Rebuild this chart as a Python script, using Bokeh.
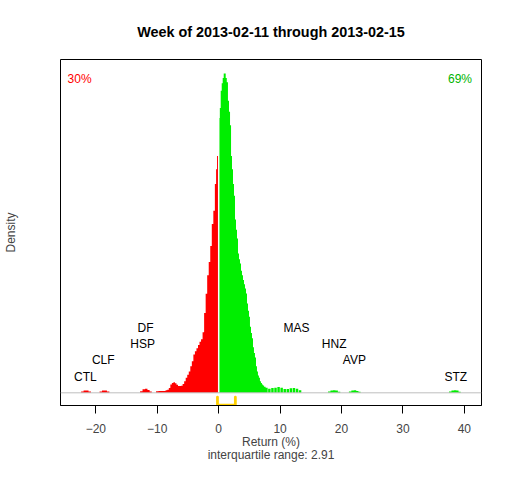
from bokeh.plotting import figure
from bokeh.models import Range1d, FixedTicker, Span, LinearAxis
from bokeh.core.properties import value
from bokeh.embed import file_html
from bokeh.resources import INLINE

# ---------------- data ----------------
title_text = "Week of 2013-02-11 through 2013-02-15"
x_ticks = [-20, -10, 0, 10, 20, 30, 40]

# density of weekly returns (relative to the peak)
ret = [-22.2, -21.8, -21.4, -21.0,
       -19.2, -18.8, -18.4, -18.0,
       -12.6, -12.2, -11.8, -11.4, -11.1,
       -10.0, -9.6, -9.2, -8.8, -8.5,
       -8.25, -8.0, -7.75, -7.5, -7.25, -7.0, -6.75, -6.5, -6.25, -6.0,
       -5.75, -5.5, -5.25, -5.0, -4.75, -4.5, -4.25, -4.0, -3.75, -3.5,
       -3.25, -3.0, -2.75, -2.5, -2.25, -2.0, -1.75, -1.5, -1.25, -1.0,
       -0.75, -0.5, -0.35, -0.2,
       0.08, 0.24, 0.41, 0.57, 0.73, 0.9, 1.06, 1.22, 1.41, 1.6, 1.76, 1.93,
       2.09, 2.25, 2.41, 2.57, 2.74, 2.9, 3.06, 3.22, 3.39, 3.55, 3.71, 3.87,
       4.04, 4.2, 4.36, 4.52, 4.69, 4.85, 5.01, 5.17, 5.34, 5.5, 5.66, 5.82,
       5.99, 6.15, 6.31, 6.47, 6.63, 6.8, 6.96, 7.12, 7.28, 7.5, 7.77,
       8.25, 8.75, 9.25, 9.75, 10.25, 10.75, 11.25, 11.75, 12.25, 12.75, 13.25,
       18.0, 18.4, 18.8, 19.2, 19.6,
       21.4, 21.8, 22.2, 22.6, 22.9,
       37.7, 38.1, 38.5, 38.9, 39.2]
dens = [0.004, 0.007, 0.007, 0.004,
        0.004, 0.007, 0.007, 0.004,
        0.005, 0.011, 0.013, 0.009, 0.004,
        0.005, 0.006, 0.006, 0.006, 0.008,
        0.010, 0.015, 0.026, 0.031, 0.033, 0.030, 0.025, 0.021, 0.021, 0.022,
        0.028, 0.036, 0.047, 0.057, 0.067, 0.083, 0.099, 0.120, 0.130, 0.140,
        0.150, 0.160, 0.168, 0.190, 0.250, 0.310, 0.368, 0.410, 0.460, 0.529,
        0.570, 0.654, 0.700, 0.742,
        0.861, 0.892, 0.946, 0.970, 0.986, 1.000, 1.000, 0.986, 0.973, 0.915, 0.880, 0.838,
        0.742, 0.700, 0.654, 0.617, 0.543, 0.511, 0.483, 0.436, 0.418, 0.405, 0.382, 0.368,
        0.353, 0.340, 0.327, 0.311, 0.280, 0.257, 0.238, 0.207, 0.187, 0.171, 0.143, 0.125,
        0.111, 0.083, 0.067, 0.054, 0.047, 0.036, 0.031, 0.026, 0.023, 0.019, 0.016,
        0.013, 0.015, 0.016, 0.018, 0.016, 0.012, 0.012, 0.014, 0.015, 0.013, 0.008,
        0.004, 0.007, 0.008, 0.007, 0.003,
        0.004, 0.007, 0.008, 0.006, 0.003,
        0.004, 0.007, 0.008, 0.007, 0.003]

# outlier stocks labelled on the chart
tickers = ["CTL", "CLF", "HSP", "DF", "MAS", "HNZ", "AVP", "STZ"]
ticker_ret = [-21.7, -18.8, -12.4, -11.9, 12.65, 18.8, 22.1, 38.6]
ticker_level = [1, 2, 3, 4, 4, 3, 2, 1]

pct_down = "30%"
pct_up = "69%"
q1, q3 = -0.2, 2.71
x_label = "Return (%)"
iqr_text = "interquartile range: 2.91"

# ---------------- style ----------------
FONT = "Liberation Sans"
RED = "#FF0000"
GREEN = "#00EE00"
GOLD = "#FFD000"
LEVEL_STEP = 0.051
MAX_HALF = 0.2

p = figure(width=496, height=464, output_backend="svg", toolbar_location=None,
           title=None,
           x_range=Range1d(-25.76, 42.79), y_range=Range1d(-0.0397, 1.044),
           min_border_left=59, min_border_right=15, min_border_top=59,
           min_border_bottom=58)
p.grid.visible = False
p.outline_line_color = "black"
p.outline_line_width = 1
p.background_fill_color = "white"
p.border_fill_color = "white"

# bars -> step polygons
bars = []
n = len(ret)
for i in range(n):
    lg = ret[i] - ret[i - 1] if i > 0 else 2 * MAX_HALF
    rg = ret[i + 1] - ret[i] if i < n - 1 else 2 * MAX_HALF
    bars.append((ret[i] - min(lg / 2, MAX_HALF), ret[i] + min(rg / 2, MAX_HALF), dens[i], ret[i]))

red_bars = [(l, min(r, 0.0), h) for l, r, h, x in bars if x < 0]
green_bars = [(max(l, 0.0), r, h) for l, r, h, x in bars if x > 0]


def step_poly(bs):
    px, py = [], []
    prev = None
    for l, r, h in bs:
        if prev is None or abs(l - prev) > 1e-9:
            if prev is not None:
                px.append(prev)
                py.append(0)
            px.append(l)
            py.append(0)
        px += [l, r]
        py += [h, h]
        prev = r
    px.append(prev)
    py.append(0)
    return px, py


rx, ry = step_poly(red_bars)
gx, gy = step_poly(green_bars)
p.patch(x=rx, y=ry, fill_color=RED, line_color=None)
p.patch(x=gx, y=gy, fill_color=GREEN, line_color=None)

# white divider at zero
p.segment(x0=[0], y0=[0], x1=[0], y1=[max(dens)], line_color="white", line_width=1.5)

# grey baseline
p.add_layout(Span(location=0, dimension="width", line_color="#BEBEBE", line_width=1))

# interquartile bracket
br_base, br_tip = -0.0386, -0.0137
p.line(x=[q1, q1, q3, q3], y=[br_tip, br_base, br_base, br_tip], line_color=GOLD,
       line_width=2.8, line_cap="round", line_join="round")

# stock labels
p.text(x=ticker_ret, y=[lv * LEVEL_STEP for lv in ticker_level], text=tickers,
       text_font=value(FONT), text_font_size="12px", text_align="center",
       text_baseline="middle", text_color="black")

# percentage labels
p.text(x=[-24.6], y=[0.983], text=[pct_down], text_font=value(FONT), text_font_size="12px",
       text_align="left", text_baseline="middle", text_color=RED)
p.text(x=[41.25], y=[0.983], text=[pct_up], text_font=value(FONT), text_font_size="12px",
       text_align="right", text_baseline="middle", text_color="#00B400")

# axes
xa = p.xaxis[0]
xa.ticker = FixedTicker(ticks=x_ticks)
xa.major_tick_out = 8
xa.major_tick_in = 0
xa.minor_tick_out = 0
xa.minor_tick_in = 0
xa.major_label_text_font = FONT
xa.major_label_text_font_size = "12px"
xa.major_label_standoff = 10
xa.axis_line_color = "black"
xa.axis_label = x_label + "\n" + iqr_text
xa.axis_label_text_font = FONT
xa.axis_label_text_font_size = "12px"
xa.axis_label_text_font_style = "normal"
xa.axis_label_text_line_height = 0.95
xa.axis_label_standoff = -1

ya = p.yaxis[0]
ya.ticker = FixedTicker(ticks=[])
ya.axis_line_color = None
ya.major_tick_out = 0
ya.major_tick_in = 0
ya.minor_tick_out = 0
ya.minor_tick_in = 0
ya.axis_label = "Density"
ya.axis_label_text_font = FONT
ya.axis_label_text_font_size = "12px"
ya.axis_label_text_font_style = "normal"
ya.axis_label_standoff = 43

# title drawn as the label of an empty top axis
ta = LinearAxis(ticker=FixedTicker(ticks=[]), axis_line_color=None,
                major_tick_out=0, major_tick_in=0, minor_tick_out=0, minor_tick_in=0,
                axis_label=title_text, axis_label_text_font=FONT,
                axis_label_text_font_size="14.4px", axis_label_text_font_style="bold",
                axis_label_text_color="black", axis_label_standoff=20)
p.add_layout(ta, "above")

open("out.html", "w").write(file_html(p, INLINE))
